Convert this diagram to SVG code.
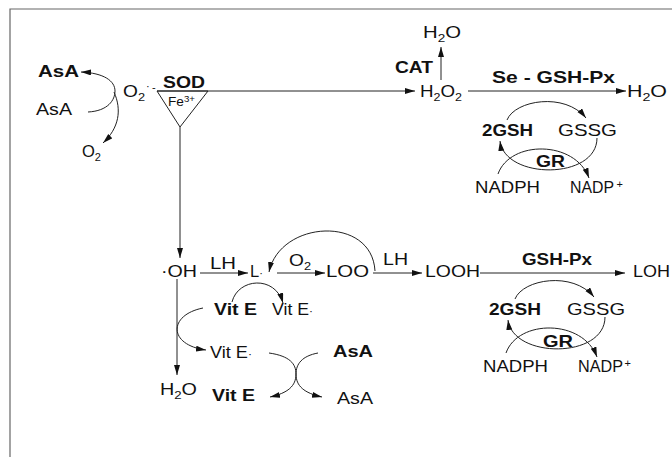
<svg xmlns="http://www.w3.org/2000/svg" width="672" height="457" viewBox="0 0 672 457">
<defs>
<style>
.t{font-family:"Liberation Sans",Arial,sans-serif;font-size:16.5px;fill:#111}
.b{font-weight:bold}
.s{font-size:11px}
.ln{fill:none;stroke:#222;stroke-width:1}
.ar{fill:none;stroke:#222;stroke-width:1;marker-end:url(#ah)}
</style>
<marker id="ah" markerUnits="userSpaceOnUse" markerWidth="11" markerHeight="7" refX="10" refY="3" orient="auto">
<path d="M0,0 L10,3 L0,6 z" fill="#111"/>
</marker>
</defs>
<rect width="672" height="457" fill="#fff"/>
<g id="frame">
<path d="M10,457 L10,9 L672,9" fill="none" stroke="#666" stroke-width="1.2"/>
</g>
<g id="connectors">
<path class="ar" d="M88,112 C108,111 115,100 115,91 C115,81 104,73 81,72"/>
<path class="ar" d="M114,92 C122,110 119,128 103,143"/>
<path class="ar" d="M157,91 L415,91"/>
<path class="ln" d="M157,91 L208,91 L180,127 Z"/>
<path class="ar" d="M180,127 L180,258"/>
<path class="ar" d="M441,80 L441,47"/>
<path class="ar" d="M468,91 L626,91"/>
<path class="ar" d="M507,120 C515,100 565,92 586,118"/>
<path class="ar" d="M597,138 C597,180 505,180 500,141"/>
<path class="ar" d="M498,174 C510,140 575,140 589,178"/>
<path class="ar" d="M200,273 L248,273"/>
<path class="ar" d="M277,273 L325,273"/>
<path class="ar" d="M373,273 L422,273"/>
<path class="ar" d="M480,273 L625,273"/>
<path class="ar" d="M375,271 C372,215 280,220 269,272"/>
<path class="ar" d="M177,279 L177,375"/>
<path class="ar" d="M232,302 C238,278 275,275 283,303"/>
<path class="ar" d="M203,308 C168,315 168,345 206,350"/>
<path class="ar" d="M269,353 C290,356 296,364 296,374 C296,386 288,393 270,397"/>
<path class="ar" d="M318,353 C302,356 296,364 296,374 C296,386 304,393 322,397"/>
<path class="ar" d="M515,299 C523,279 573,271 594,297"/>
<path class="ar" d="M605,317 C605,359 513,359 508,320"/>
<path class="ar" d="M506,353 C518,319 583,319 597,357"/>
</g>
<g id="n-asa1"><text class="t b" x="38" y="77" textLength="41" lengthAdjust="spacingAndGlyphs">AsA</text></g>
<g id="n-asa2"><text class="t" x="36" y="115" textLength="36" lengthAdjust="spacingAndGlyphs">AsA</text></g>
<g id="n-o2a"><text class="t" x="82" y="157" textLength="19" lengthAdjust="spacingAndGlyphs">O<tspan class="s" dy="4">2</tspan></text></g>
<g id="n-o2rad"><text class="t" x="123" y="97" textLength="22" lengthAdjust="spacingAndGlyphs">O<tspan class="s" dy="4">2</tspan></text><text class="t s" x="146" y="90">·</text><text class="t s" x="152" y="91">-</text></g>
<g id="n-sod"><text class="t b" x="163" y="88" textLength="42" lengthAdjust="spacingAndGlyphs">SOD</text>
<text class="t" x="168" y="106" style="font-size:12px" textLength="27" lengthAdjust="spacingAndGlyphs">Fe<tspan style="font-size:8.5px" dy="-4">3+</tspan></text></g>
<g id="n-cat"><text class="t b" x="395" y="73" textLength="38" lengthAdjust="spacingAndGlyphs">CAT</text></g>
<g id="n-h2o-top"><text class="t" x="423" y="38" textLength="38" lengthAdjust="spacingAndGlyphs">H<tspan class="s" dy="4">2</tspan><tspan dy="-4">O</tspan></text></g>
<g id="n-h2o2"><text class="t" x="420" y="97" textLength="42" lengthAdjust="spacingAndGlyphs">H<tspan class="s" dy="4">2</tspan><tspan dy="-4">O</tspan><tspan class="s" dy="4">2</tspan></text></g>
<g id="n-segpx"><text class="t b" x="492" y="83" textLength="123" lengthAdjust="spacingAndGlyphs">Se - GSH-Px</text></g>
<g id="n-h2o-right"><text class="t" x="627" y="97" textLength="40" lengthAdjust="spacingAndGlyphs">H<tspan class="s" dy="4">2</tspan><tspan dy="-4">O</tspan></text></g>
<g id="n-2gsh1"><text class="t b" x="482" y="136" textLength="51" lengthAdjust="spacingAndGlyphs">2GSH</text></g>
<g id="n-gssg1"><text class="t" x="558" y="136" textLength="59" lengthAdjust="spacingAndGlyphs">GSSG</text></g>
<g id="n-gr1"><text class="t b" x="536" y="167" textLength="29" lengthAdjust="spacingAndGlyphs">GR</text></g>
<g id="n-nadph1"><text class="t" x="475" y="193" textLength="65" lengthAdjust="spacingAndGlyphs">NADPH</text></g>
<g id="n-nadp1"><text class="t" x="570" y="193" textLength="44" lengthAdjust="spacingAndGlyphs">NADP</text><text class="t s" x="616.5" y="188">+</text></g>
<g id="n-oh"><text class="t" x="161" y="277" textLength="36" lengthAdjust="spacingAndGlyphs">·OH</text></g>
<g id="n-lh1"><text class="t" x="210" y="269" textLength="26" lengthAdjust="spacingAndGlyphs">LH</text></g>
<g id="n-l"><text class="t" x="250" y="277">L<tspan class="s">·</tspan></text></g>
<g id="n-o2b"><text class="t" x="289" y="266" textLength="22" lengthAdjust="spacingAndGlyphs">O<tspan class="s" dy="4">2</tspan></text></g>
<g id="n-loo"><text class="t" x="326" y="277" textLength="43" lengthAdjust="spacingAndGlyphs">LOO</text></g>
<g id="n-lh2"><text class="t" x="383" y="265" textLength="25" lengthAdjust="spacingAndGlyphs">LH</text></g>
<g id="n-looh"><text class="t" x="425" y="277" textLength="55" lengthAdjust="spacingAndGlyphs">LOOH</text></g>
<g id="n-gpx"><text class="t b" x="522" y="265" textLength="70" lengthAdjust="spacingAndGlyphs">GSH-Px</text></g>
<g id="n-loh"><text class="t" x="633" y="277" textLength="37" lengthAdjust="spacingAndGlyphs">LOH</text></g>
<g id="n-2gsh2"><text class="t b" x="489" y="315" textLength="52" lengthAdjust="spacingAndGlyphs">2GSH</text></g>
<g id="n-gssg2"><text class="t" x="567" y="315" textLength="58" lengthAdjust="spacingAndGlyphs">GSSG</text></g>
<g id="n-gr2"><text class="t b" x="543" y="347" textLength="30" lengthAdjust="spacingAndGlyphs">GR</text></g>
<g id="n-nadph2"><text class="t" x="483" y="372" textLength="65" lengthAdjust="spacingAndGlyphs">NADPH</text></g>
<g id="n-nadp2"><text class="t" x="578" y="372" textLength="45" lengthAdjust="spacingAndGlyphs">NADP</text><text class="t s" x="624.5" y="367">+</text></g>
<g id="n-vite1"><text class="t b" x="214" y="315" textLength="43" lengthAdjust="spacingAndGlyphs">Vit E</text></g>
<g id="n-vite2"><text class="t" x="272" y="315" textLength="41" lengthAdjust="spacingAndGlyphs">Vit E<tspan class="s">·</tspan></text></g>
<g id="n-vite3"><text class="t" x="210" y="358" textLength="42" lengthAdjust="spacingAndGlyphs">Vit E<tspan class="s">·</tspan></text></g>
<g id="n-asa3"><text class="t b" x="333" y="357" textLength="40" lengthAdjust="spacingAndGlyphs">AsA</text></g>
<g id="n-h2o-low"><text class="t" x="160" y="395" textLength="37" lengthAdjust="spacingAndGlyphs">H<tspan class="s" dy="4">2</tspan><tspan dy="-4">O</tspan></text></g>
<g id="n-vite4"><text class="t b" x="212" y="401" textLength="43" lengthAdjust="spacingAndGlyphs">Vit E</text></g>
<g id="n-asa4"><text class="t" x="337" y="404" textLength="36" lengthAdjust="spacingAndGlyphs">AsA</text></g>
</svg>
